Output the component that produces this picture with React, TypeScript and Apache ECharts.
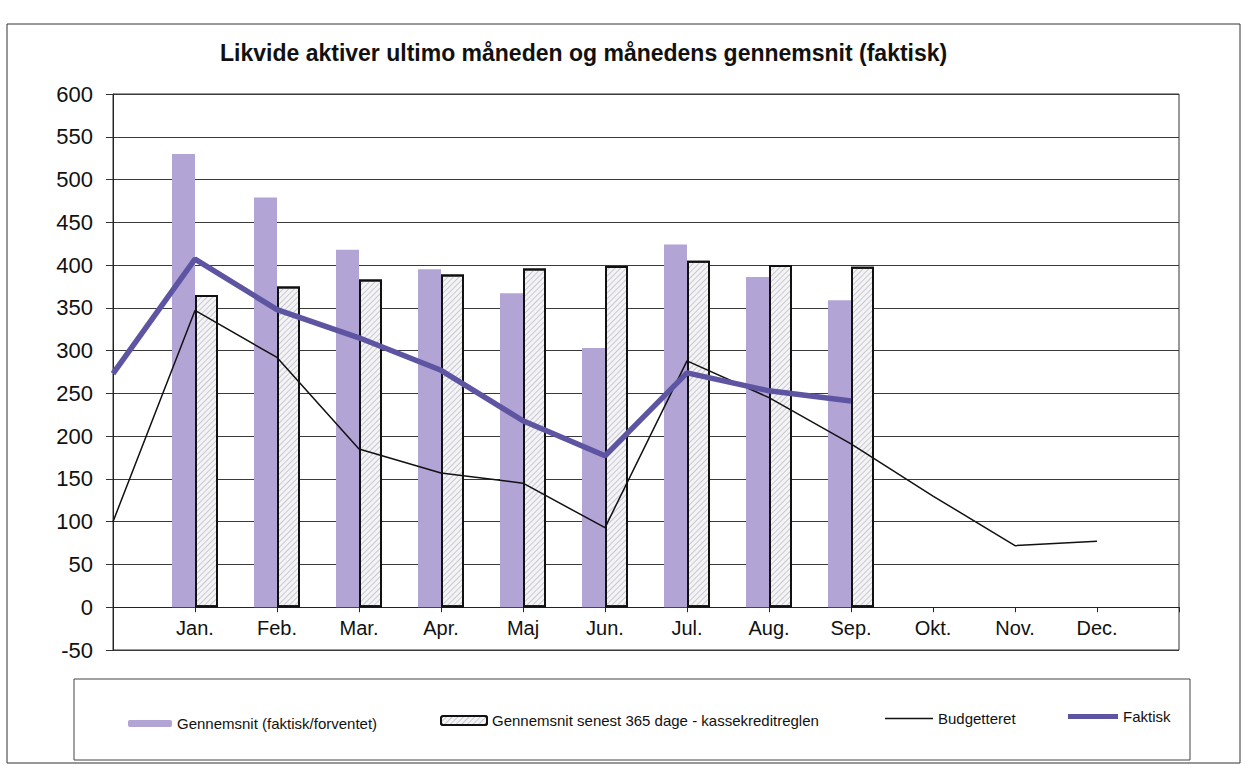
import React, { useEffect, useRef } from "react";
import * as echarts from "echarts";

const categories = ["", "Jan.", "Feb.", "Mar.", "Apr.", "Maj", "Jun.", "Jul.", "Aug.", "Sep.", "Okt.", "Nov.", "Dec.", ""];
const gennemsnit = [null, 530, 479, 418, 395, 367, 303, 424, 386, 359, null, null, null, null];
const gennemsnit365 = [null, 365, 375, 383, 389, 396, 399, 405, 400, 398, null, null, null, null];
const budgetteret = [100, 347, 292, 185, 157, 145, 93, 288, 245, 191, 130, 72, 77, null];
const faktisk = [273, 407, 348, 315, 277, 218, 177, 274, 253, 241, null, null, null, null];

const seriesNames = [
  "Gennemsnit (faktisk/forventet)",
  "Gennemsnit senest 365 dage - kassekreditreglen",
  "Budgetteret",
  "Faktisk",
];
const title = "Likvide aktiver ultimo måneden og månedens gennemsnit (faktisk)";

const FONT = "'Liberation Sans', Arial, sans-serif";
const Y_MIN = -50;
const Y_MAX = 600;
const GRID_TOP = 94;
const GRID_BOTTOM = 115;
const CHART_H = 765;

export default function App() {
  const ref = useRef<HTMLDivElement>(null);
  useEffect(() => {
    if (!ref.current) return;
    const chart = echarts.init(ref.current, null, { renderer: "svg" });
    const legendText = { fontFamily: FONT, fontSize: 15, color: "#111" };
    const plotH = CHART_H - GRID_TOP - GRID_BOTTOM;
    const zeroOffset = -(plotH * (0 - Y_MIN)) / (Y_MAX - Y_MIN);
    chart.setOption({
      animation: false,
      backgroundColor: "#ffffff",
      title: {
        text: title,
        left: 215,
        top: 36,
        textStyle: { fontFamily: FONT, fontSize: 23, fontWeight: "bold", color: "#111" },
      },
      legend: [
        { data: [seriesNames[0]], left: 128, top: 716, padding: 0, itemWidth: 44, itemHeight: 7, textStyle: legendText, selectedMode: false },
        { data: [seriesNames[1]], left: 440, top: 713, padding: 0, itemWidth: 46, itemHeight: 9, textStyle: legendText, selectedMode: false },
        { data: [{ name: seriesNames[2], icon: "rect" }], left: 885, top: 711, padding: 0, itemWidth: 48, itemHeight: 1.5, textStyle: legendText, selectedMode: false },
        { data: [{ name: seriesNames[3], icon: "rect" }], left: 1068, top: 709, padding: 0, itemWidth: 50, itemHeight: 5, textStyle: legendText, selectedMode: false },
      ],
      graphic: [
        { type: "rect", shape: { x: 7, y: 24, width: 1233, height: 739 }, style: { fill: "none", stroke: "#333", lineWidth: 1 }, silent: true, z: -1 },
        { type: "rect", shape: { x: 74, y: 679, width: 1116, height: 81 }, style: { fill: "none", stroke: "#444", lineWidth: 1 }, silent: true, z: -1 },
      ],
      grid: { left: 113, right: 66, top: GRID_TOP, bottom: GRID_BOTTOM, show: true, borderColor: "#333", borderWidth: 1, backgroundColor: "transparent" },
      xAxis: {
        type: "category",
        data: categories,
        boundaryGap: false,
        offset: zeroOffset,
        axisLine: { onZero: false, lineStyle: { color: "#222", width: 1 } },
        axisTick: { show: true, length: 5, interval: 0, lineStyle: { color: "#222" } },
        axisLabel: { interval: 0, margin: 11, fontFamily: FONT, fontSize: 20, color: "#111" },
        splitLine: { show: false },
      },
      yAxis: {
        type: "value",
        min: Y_MIN,
        max: Y_MAX,
        interval: 50,
        axisLine: { show: true, lineStyle: { color: "#222", width: 1 } },
        axisTick: { show: true, length: 7, lineStyle: { color: "#333" } },
        axisLabel: { margin: 20, fontFamily: FONT, fontSize: 22, color: "#111" },
        splitLine: { show: true, lineStyle: { color: "#3a3a3a", width: 1 } },
      },
      series: [
        {
          name: seriesNames[0],
          type: "bar",
          data: gennemsnit,
          barWidth: 23,
          barGap: "0%",
          itemStyle: { color: "#b3a4d6" },
          z: 2,
        },
        {
          name: seriesNames[1],
          type: "bar",
          data: gennemsnit365,
          barWidth: 23,
          barGap: "0%",
          itemStyle: {
            color: "#f4f3f7",
            borderColor: "#111",
            borderWidth: 2,
            decal: {
              symbol: "rect",
              symbolSize: 1,
              color: "rgba(160,160,160,0.5)",
              dashArrayX: [1, 0],
              dashArrayY: [1, 3],
              rotation: -Math.PI / 4,
            },
          },
          z: 2,
        },
        {
          name: seriesNames[2],
          type: "line",
          data: budgetteret,
          symbol: "none",
          lineStyle: { color: "#111", width: 1.5 },
          itemStyle: { color: "#111" },
          z: 3,
        },
        {
          name: seriesNames[3],
          type: "line",
          data: faktisk,
          symbol: "none",
          lineStyle: { color: "#5e55a2", width: 5.5 },
          itemStyle: { color: "#5e55a2" },
          z: 4,
        },
      ],
    });
    return () => chart.dispose();
  }, []);
  return <div ref={ref} style={{ position: "fixed", left: 0, top: 0, width: 1245, height: 765 }} />;
}
